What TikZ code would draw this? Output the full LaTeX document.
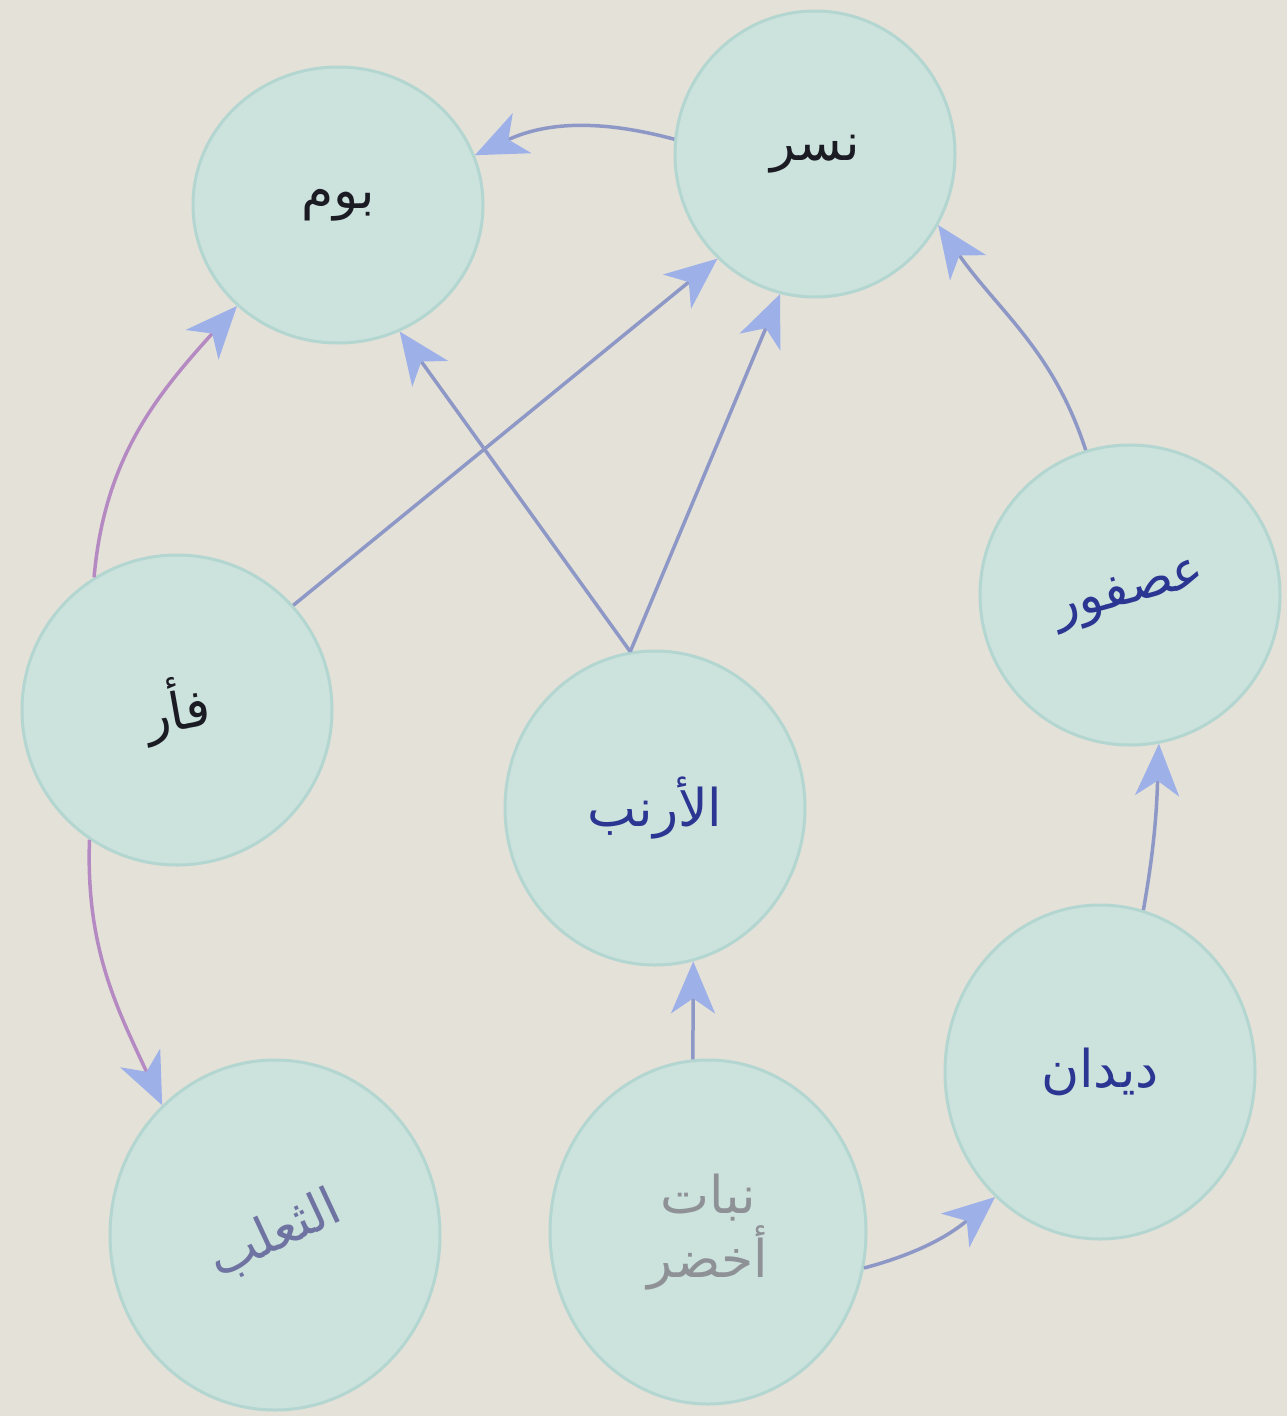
\documentclass[tikz,border=0pt]{standalone}
\usepackage{fontspec}
\usepackage{graphicx}
\usetikzlibrary{arrows.meta,shapes.geometric}
\newfontfamily\arabicfont[Script=Arabic]{DejaVu Sans}
\TeXXeTstate=1
\newcommand\artext[1]{\beginR#1\endR}
\definecolor{paper}{HTML}{E4E1D9}
\definecolor{bubblefill}{HTML}{CCE2DD}
\definecolor{bubbleedge}{HTML}{B4D6D1}
\definecolor{linkblue}{HTML}{8E98C6}
\definecolor{linkpink}{HTML}{B58AC2}
\definecolor{headblue}{HTML}{9DB1E8}
\definecolor{inkblack}{HTML}{1B1B24}
\definecolor{inkblue}{HTML}{2B3592}
\definecolor{inkslate}{HTML}{6E73A2}
\definecolor{inkgray}{HTML}{8E9196}

\begin{document}
\begin{tikzpicture}[x=1pt,y=-1pt,
	bubble/.style={ellipse, draw=bubbleedge, line width=3pt, fill=bubblefill, inner sep=0pt,
		font=\arabicfont\fontsize{52}{64}\selectfont, align=center},
	feed/.style={draw=linkblue, line width=3.5pt,
		-{Stealth[length=52pt,width=44pt,inset=15pt,color=headblue]}},
	]
	\fill[paper] (0,0) rectangle (1287,1416);
	\useasboundingbox (0,0) rectangle (1287,1416);

	\node[bubble, minimum width=290pt, minimum height=276pt, text=inkblack] (owl) at (338,205) {\artext{بوم}};
	\node[bubble, minimum width=280pt, minimum height=286pt, text=inkblack] (eagle) at (815,154) {\artext{نسر}};
	\node[bubble, minimum width=310pt, minimum height=310pt, text=inkblack] (mouse) at (177,710) {\rotatebox{10}{\artext{فأر}}};
	\node[bubble, minimum width=300pt, minimum height=300pt, text=inkblue] (sparrow) at (1130,595) {\rotatebox{15}{\artext{عصفور}}};
	\node[bubble, minimum width=300pt, minimum height=314pt, text=inkblue] (rabbit) at (655,808) {\artext{الأرنب}};
	\node[bubble, minimum width=310pt, minimum height=334pt, text=inkblue] (worms) at (1100,1072) {\artext{ديدان}};
	\node[bubble, minimum width=330pt, minimum height=350pt, text=inkslate] (fox) at (275,1235) {\rotatebox{25}{\artext{الثعلب}}};
	\node[bubble, minimum width=316pt, minimum height=344pt, text=inkgray] (plant) at (708,1232) {\artext{نبات}\\\artext{أخضر}};

	\draw[feed] (eagle.174) to[out=165, in=25] (owl.20);
	\draw[feed, draw=linkpink] (mouse.122) to[out=85, in=228] (owl.225);
	\draw[feed] (mouse.42) -- (eagle.227);
	\draw[feed] (rabbit.99) -- (owl.296);
	\draw[feed] (rabbit.99) -- (eagle.256);
	\draw[feed] (sparrow.107) to[out=108, in=305] (eagle.330);
	\draw[feed, draw=linkpink] (mouse.236) to[out=268, in=115] (fox.131);
	\draw[feed] (plant.95) -- (rabbit.284);
	\draw[feed] (plant.347) to[out=15, in=220] (worms.230);
	\draw[feed] (worms.75) to[out=80, in=268] (sparrow.281);
\end{tikzpicture}
\end{document}
